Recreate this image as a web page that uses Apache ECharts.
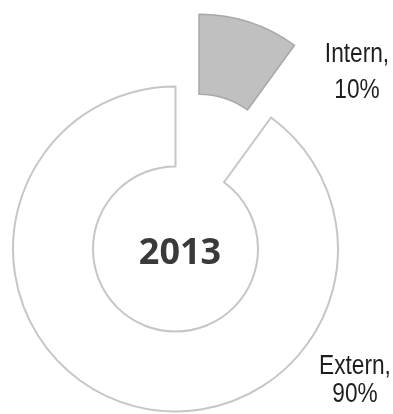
<!DOCTYPE html>
<html>
<head>
<meta charset="utf-8">
<script src="https://cdn.jsdelivr.net/npm/echarts@6/dist/echarts.min.js"></script>
<style>
  html, body { margin: 0; padding: 0; background: #fff; }
  #chart { width: 393px; height: 414px; }
</style>
</head>
<body>
<div id="chart"></div>
<script>
// data
const categories = ['Intern', 'Extern']
const values = [10, 90]
const centerTitle = '2013'

// label placement (pixel), per slice
const labelPos = [
  { x: 357, y: 73, lineHeight: 36 },
  { x: 355, y: 381, lineHeight: 28 }
]

const total = values.reduce((a, b) => a + b, 0)

const chart = echarts.init(document.getElementById('chart'))

// slice labels drawn as graphic text, narrow look via scaleX
const labelGraphics = categories.map((name, i) => ({
  type: 'text',
  x: labelPos[i].x,
  y: labelPos[i].y,
  scaleX: 0.84,
  style: {
    text: name + ',\n' + Math.round(values[i] / total * 100) + '%',
    fontFamily: 'Liberation Sans',
    fontSize: 27,
    lineHeight: labelPos[i].lineHeight,
    fill: '#1e1e1e',
    align: 'center',
    verticalAlign: 'middle'
  }
}))

const option = {
  animation: false,
  backgroundColor: '#fff',
  title: {
    text: centerTitle,
    left: 175,
    top: 249,
    textAlign: 'center',
    textVerticalAlign: 'middle',
    textStyle: {
      fontFamily: 'Open Sans',
      fontWeight: 'bold',
      fontSize: 36,
      color: '#3a3a3a'
    }
  },
  graphic: labelGraphics,
  series: [{
    type: 'pie',
    center: [175.5, 249],
    radius: [82.5, 162.5],
    startAngle: 90,
    clockwise: true,
    selectedMode: 'single',
    selectedOffset: 76,
    emphasis: { disabled: true },
    label: { show: false },
    labelLine: { show: false },
    data: categories.map((name, i) => ({
      name: name,
      value: values[i],
      selected: i === 0,
      itemStyle: i === 0
        ? { color: '#c0c0c0', borderColor: '#a8a8a8', borderWidth: 1.5 }
        : { color: '#ffffff', borderColor: '#c6c6c6', borderWidth: 2 }
    }))
  }]
}

chart.setOption(option)
</script>
</body>
</html>
